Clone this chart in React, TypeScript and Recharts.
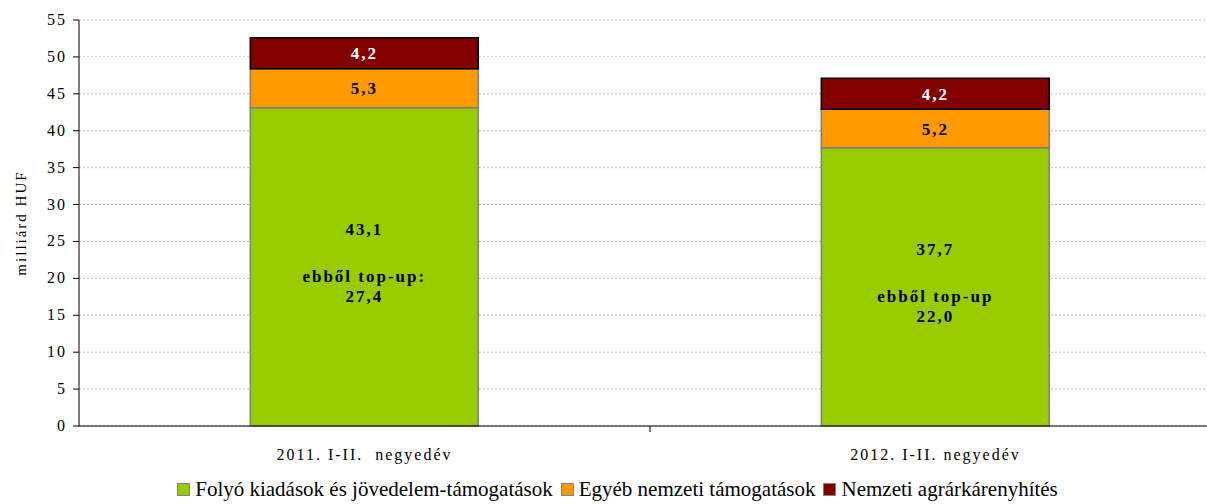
import React from "react";
import { BarChart, Bar, XAxis, YAxis, CartesianGrid, Legend, LabelList } from "recharts";

const categories = ["2011. I-II.\u00a0 negyedév", "2012. I-II. negyedév"];
const folyo = [43.1, 37.7];
const egyeb = [5.3, 5.2];
const nemzeti = [4.2, 4.2];
const topUpText = ["ebből top-up:", "ebből top-up"];
const topUp = [27.4, 22.0];
const yTicks = [0, 5, 10, 15, 20, 25, 30, 35, 40, 45, 50, 55];

const seriesNames = [
  "Folyó kiadások és jövedelem-támogatások",
  "Egyéb nemzeti támogatások",
  "Nemzeti agrárkárenyhítés",
];
const colors = ["#99CC00", "#FF9900", "#800000"];

const data = categories.map((name, i) => ({
  name,
  folyo: folyo[i],
  egyeb: egyeb[i],
  nemzeti: nemzeti[i],
  topUpText: topUpText[i],
  topUp: topUp[i],
}));

const FONT = "Liberation Serif, Times New Roman, serif";
const fmt = (v: number) => v.toFixed(1).replace(".", ",");

const XTick = (props: any) => {
  const { x, y, payload } = props;
  const off = payload.offset || 0;
  return (
    <g>
      {payload.index > 0 && (
        <line x1={x - off} x2={x - off} y1={y - 8} y2={y - 2} stroke="#000" />
      )}
      <text x={x} y={y + 26} textAnchor="middle" fontSize={16} letterSpacing={2} fill="#000" fontFamily={FONT}>
        {payload.value}
      </text>
    </g>
  );
};

const YTick = (props: any) => {
  const { x, y, payload } = props;
  return (
    <text x={x + 2} y={y} dy={5} textAnchor="end" fontSize={16} letterSpacing={2} fill="#000" fontFamily={FONT}>
      {payload.value}
    </text>
  );
};

const boldStyle = { fontSize: 17, fontWeight: "bold", fontFamily: FONT, letterSpacing: 2 };

const GreenLabel = (props: any) => {
  const { x, y, width, height, index } = props;
  const cx = x + width / 2;
  const cy = y + height / 2;
  const d = data[index];
  return (
    <g fontFamily={FONT} fontWeight="bold" fontSize={17} letterSpacing={2} fill="#000" textAnchor="middle">
      <text x={cx} y={cy - 37} dominantBaseline="central">{fmt(d.folyo)}</text>
      <text x={cx} y={cy + 10} dominantBaseline="central">{d.topUpText}</text>
      <text x={cx} y={cy + 30} dominantBaseline="central">{fmt(d.topUp)}</text>
    </g>
  );
};

const LegendContent = () => (
  <div
    style={{
      display: "flex",
      justifyContent: "center",
      alignItems: "center",
      fontFamily: FONT,
      fontSize: 21,
      lineHeight: 1,
      color: "#000",
      gap: 8,
      paddingTop: 5,
      paddingLeft: 14,
    }}
  >
    {seriesNames.map((n, i) => (
      <span key={n} style={{ display: "flex", alignItems: "center" }}>
        <span
          style={{
            width: 11,
            height: 11,
            background: colors[i],
            border: "1px solid #808080",
            marginRight: 5,
            display: "inline-block",
          }}
        />
        {n}
      </span>
    ))}
  </div>
);

export default function App() {
  return (
    <div
      style={{
        position: "absolute",
        left: 0,
        top: 0,
        width: 1207,
        height: 504,
        overflow: "hidden",
        background: "#fff",
        fontFamily: FONT,
      }}
    >
      <BarChart
        width={1230}
        height={504}
        data={data}
        margin={{ top: 20, right: 9, left: 0, bottom: 0 }}
        barCategoryGap="30%"
      >
        <CartesianGrid vertical={false} stroke="#c0c0c0" strokeDasharray="2 2" />
        <XAxis
          dataKey="name"
          height={48}
          tick={<XTick />}
          tickLine={false}
          axisLine={{ stroke: "#000" }}
          interval={0}
        />
        <YAxis
          width={79}
          domain={[0, 55]}
          ticks={yTicks}
          tickSize={6}
          tickMargin={8}
          tick={<YTick />}
          axisLine={{ stroke: "#000" }}
          tickLine={{ stroke: "#000" }}
          label={{
            value: "milliárd HUF",
            angle: -90,
            position: "insideLeft",
            offset: 21,
            style: { textAnchor: "middle", fontSize: 15, letterSpacing: 2, fontFamily: FONT, fill: "#000" },
          }}
        />
        <Legend verticalAlign="bottom" height={30} content={<LegendContent />} />
        <Bar dataKey="folyo" stackId="a" fill={colors[0]} stroke="#808080" strokeWidth={1.5} isAnimationActive={false}>
          <LabelList dataKey="folyo" content={<GreenLabel />} />
        </Bar>
        <Bar dataKey="egyeb" stackId="a" fill={colors[1]} stroke="#808080" strokeWidth={1.5} isAnimationActive={false}>
          <LabelList
            dataKey="egyeb"
            position="center"
            formatter={(v: any) => fmt(Number(v))}
            style={{ ...boldStyle, fill: "#000" }}
          />
        </Bar>
        <Bar dataKey="nemzeti" stackId="a" fill={colors[2]} stroke="#000" strokeWidth={1.5} isAnimationActive={false}>
          <LabelList
            dataKey="nemzeti"
            position="center"
            formatter={(v: any) => fmt(Number(v))}
            style={{ ...boldStyle, fill: "#fff" }}
          />
        </Bar>
      </BarChart>
    </div>
  );
}
